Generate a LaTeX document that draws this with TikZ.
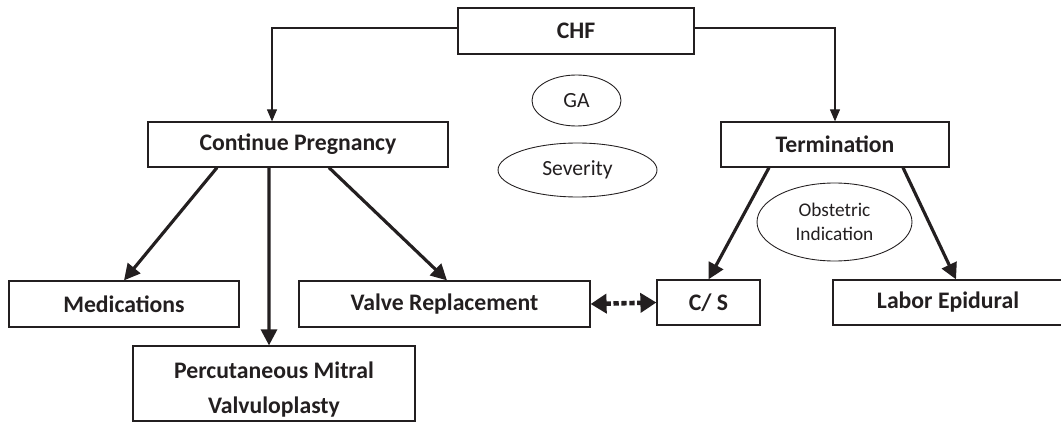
\documentclass[tikz,border=0pt]{standalone}
\usepackage{fontspec}
\setmainfont{Carlito}
\usetikzlibrary{arrows.meta, positioning, shapes.geometric}
\definecolor{InkGrey}{RGB}{35,31,32}

\begin{document}
\begin{tikzpicture}[
            x=0.02cm, y=-0.02cm,
            flowbox/.style={
                draw=InkGrey,
                line width=0.7pt,
                align=center,
                inner sep=0pt,
                text=InkGrey,
                font=\bfseries\fontsize{13.5}{20}\selectfont
            },
            factor/.style={
                ellipse,
                draw=InkGrey,
                line width=0.5pt,
                align=center,
                inner sep=0pt,
                text=InkGrey,
                font=\fontsize{12.3}{15}\selectfont
            },
            thinarrow/.style={-{Triangle[length=0.24cm, width=0.2cm]}, line width=0.6pt, draw=InkGrey},
            arrow/.style={-{Triangle[length=0.32cm, width=0.32cm]}, line width=1.8pt, draw=InkGrey},
            linkarrow/.style={{Triangle[length=0.32cm, width=0.38cm]}-{Triangle[length=0.32cm, width=0.38cm]},
                line width=2.6pt, dash pattern=on 3pt off 1.5pt, draw=InkGrey}
        ]
            \useasboundingbox (0,0) rectangle (1061,422);

            % top level
            \node[flowbox, minimum width=4.72cm, minimum height=0.92cm] (chf) at (576,31) {CHF};
            \node[flowbox, minimum width=6.0cm, minimum height=0.9cm] (cont) at (298,144.5) {Continue Pregnancy};
            \node[flowbox, minimum width=4.56cm, minimum height=0.9cm] (term) at (835,144.5) {Termination};

            % factors
            \node[factor, minimum width=1.78cm, minimum height=1.02cm] (ga) at (576.5,100.5) {GA};
            \node[factor, minimum width=3.18cm, minimum height=1.08cm] (sev) at (577.5,170) {Severity};
            \node[factor, minimum width=3.1cm, minimum height=1.56cm,
                font=\fontsize{11}{14}\selectfont] (obst) at (834.5,222) {Obstetric\\Indication};

            % options
            \node[flowbox, minimum width=4.6cm, minimum height=0.92cm] (med) at (124,304) {Medications};
            \node[flowbox, minimum width=5.82cm, minimum height=0.92cm] (valve) at (444.5,304) {Valve Replacement};
            \node[flowbox, minimum width=5.64cm, minimum height=1.5cm] (pmv) at (274,383.5) {\rule{0pt}{16pt}Percutaneous Mitral\\Valvuloplasty};
            \node[flowbox, minimum width=2.06cm, minimum height=0.9cm] (cs) at (708.5,302.5) {C/ S};
            \node[flowbox, minimum width=4.6cm, minimum height=0.9cm] (labor) at (948,302.5) {Labor Epidural};

            \draw[thinarrow] ([yshift=0.06cm]chf.west) -| ([xshift=-0.52cm]cont.north);
            \draw[thinarrow] ([yshift=0.06cm]chf.east) -| (term.north);

            \draw[arrow] ([xshift=-1.62cm]cont.south) -- (med.north);
            \draw[arrow] ([xshift=-0.58cm]cont.south) -- ([xshift=-0.1cm]pmv.north);
            \draw[arrow] ([xshift=0.62cm]cont.south) -- ([xshift=0.05cm]valve.north);
            \draw[arrow] ([xshift=-1.32cm]term.south) -- (cs.north);
            \draw[arrow] ([xshift=1.36cm]term.south) -- ([xshift=0.16cm]labor.north);

            \draw[linkarrow] (valve.east) -- (cs.west);
        \end{tikzpicture}
\end{document}
